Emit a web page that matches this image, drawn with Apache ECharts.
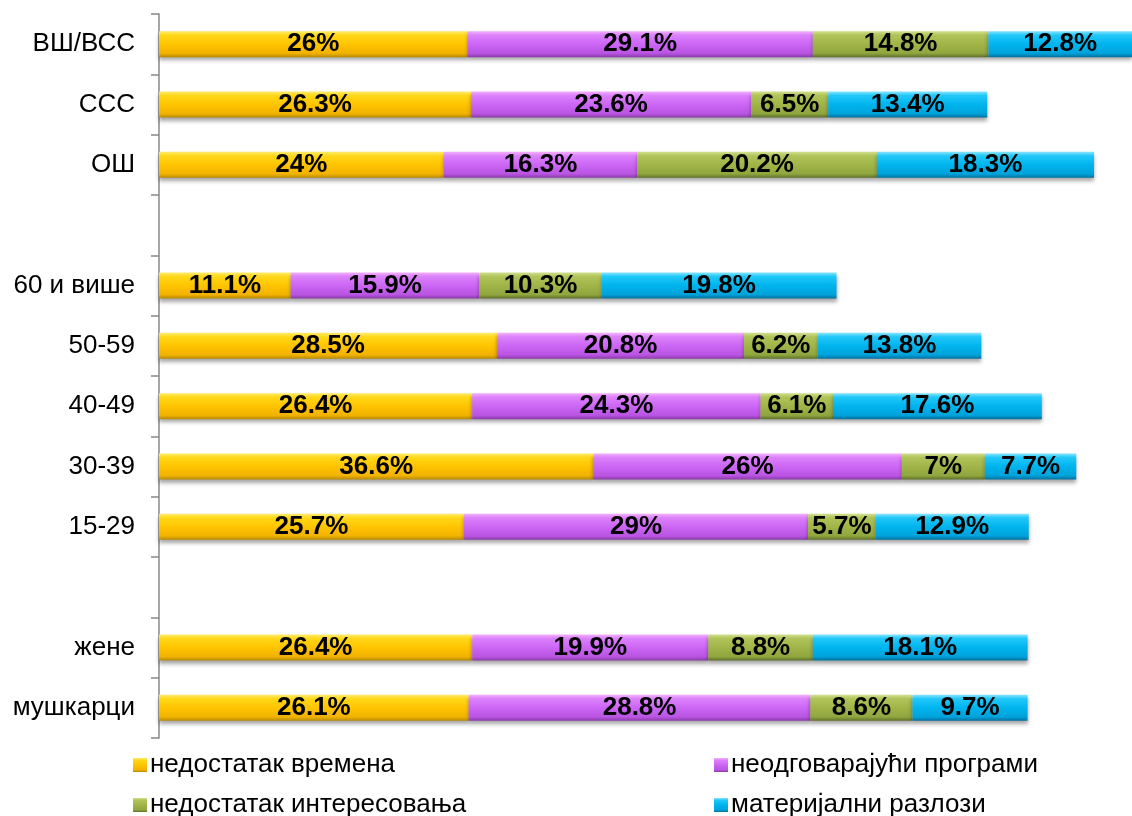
<!DOCTYPE html>
<html><head><meta charset="utf-8">
<script src="https://cdn.jsdelivr.net/npm/echarts@6/dist/echarts.min.js"></script>
<style>html,body{margin:0;padding:0;background:#fff}#c{width:1132px;height:816px}</style>
</head><body><div id="c"></div>
<script>
const categories = ['мушкарци','жене','','15-29','30-39','40-49','50-59','60 и више',' ','ОШ','ССС','ВШ/ВСС'];
const seriesNames = ['недостатак времена','неодговарајући програми','недостатак интересовања','материјални разлози'];
const nedostatakVremena = [26.1,26.4,null,25.7,36.6,26.4,28.5,11.1,null,24,26.3,26];
const neodgovarajuciProgrami = [28.8,19.9,null,29,26,24.3,20.8,15.9,null,16.3,23.6,29.1];
const nedostatakInteresovanja = [8.6,8.8,null,5.7,7,6.1,6.2,10.3,null,20.2,6.5,14.8];
const materijalniRazlozi = [9.7,18.1,null,12.9,7.7,17.6,13.8,19.8,null,18.3,13.4,12.8];

const values = [nedostatakVremena, neodgovarajuciProgrami, nedostatakInteresovanja, materijalniRazlozi];
const grads = [
  ['#FFEC70','#FFD81A','#FFC400','#F2B200','#B88A00'],
  ['#F4B0FF','#DC82FB','#CC66F5','#B955E2','#8A3AA8'],
  ['#D2E090','#B0C45A','#A0B448','#90A63E','#5E7028'],
  ['#8AE4FF','#22C8F8','#00B4EE','#00A2DA','#0070A0']
];
function grad(g){
  return {type:'linear',x:0,y:0,x2:0,y2:1,colorStops:[
    {offset:0,color:g[0]},{offset:0.15,color:g[1]},{offset:0.5,color:g[2]},{offset:0.85,color:g[3]},{offset:1,color:g[4]}]};
}
const font = 'Liberation Sans, Arial, sans-serif';
const chart = echarts.init(document.getElementById('c'));
const legendPos = [{left:128,top:746},{left:709,top:746},{left:128,top:786},{left:709,top:786}];
chart.setOption({
  animation:false,
  grid:{left:159,top:14,right:0,height:724,containLabel:false},
  xAxis:{type:'value',min:0,max:82,show:false},
  yAxis:{type:'category',data:categories,
    axisLine:{show:true,lineStyle:{color:'#888',width:1.5}},
    axisTick:{show:true,inside:false,length:8,lineStyle:{color:'#888',width:1.5}},
    axisLabel:{fontSize:26,color:'#000',fontFamily:font,margin:24}},
  legend: seriesNames.map((n,i)=>({
    data:[n],left:legendPos[i].left,top:legendPos[i].top,icon:'rect',itemWidth:14,itemHeight:14,itemGap:6,
    textStyle:{fontSize:26,color:'#000',fontFamily:font,lineHeight:28,padding:[0,0,0,-2]}
  })),
  series: seriesNames.map((n,i)=>({
    name:n,type:'bar',stack:'a',barWidth:26,data:values[i],
    itemStyle:{color:grad(grads[i]),shadowColor:'rgba(0,0,0,0.35)',shadowBlur:4,shadowOffsetY:3},
    label:{show:true,position:'inside',formatter:p=>p.value==null?'':p.value+'%',
      fontSize:26,fontWeight:'bold',color:'#000',fontFamily:font}
  }))
});
</script></body></html>
